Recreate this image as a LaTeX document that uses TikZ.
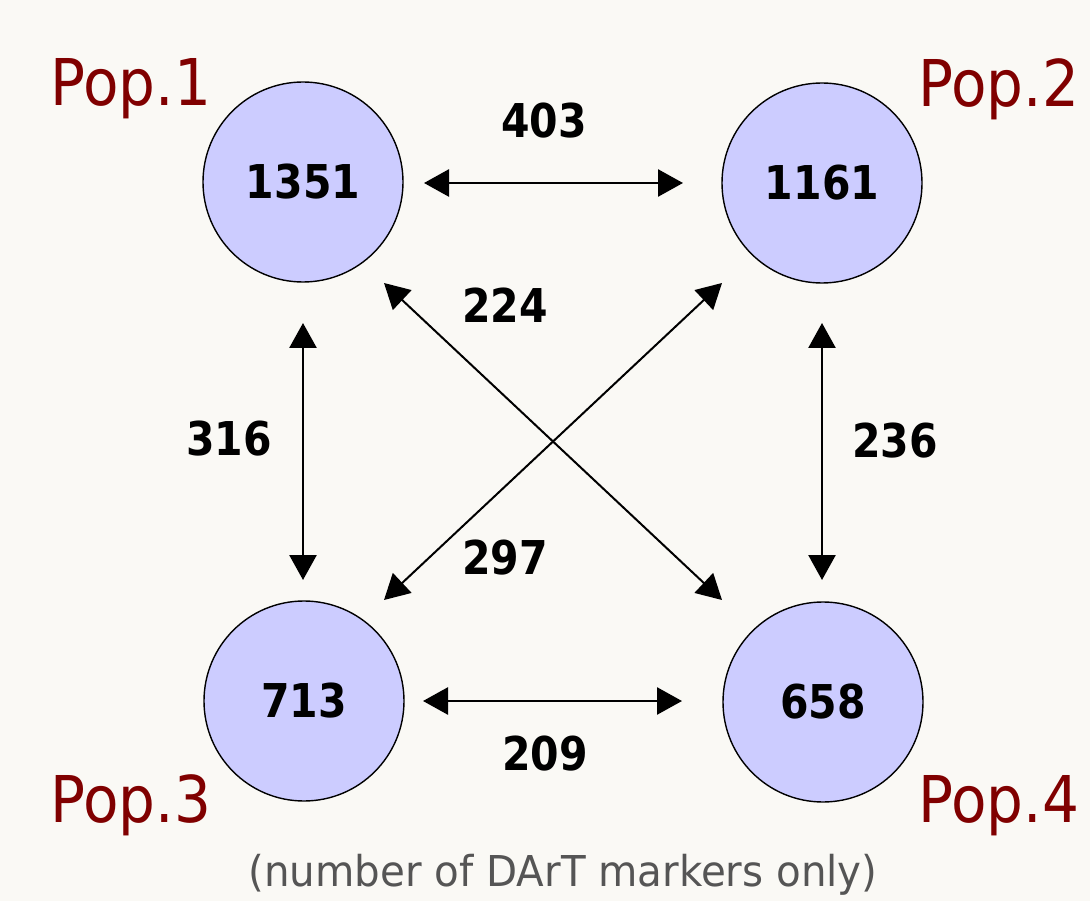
\documentclass[tikz,border=0pt]{standalone}
\usepackage{fontspec}
\usetikzlibrary{arrows.meta,calc}
\setmainfont{DejaVu Sans}
\newfontfamily\popfont[FakeStretch=0.9]{DejaVu Sans}
\newfontfamily\numfont[FakeStretch=0.88]{DejaVu Sans}
\newfontfamily\notefont[FakeStretch=0.95]{DejaVu Sans}
\definecolor{paper}{HTML}{FAF9F5}
\definecolor{popfill}{HTML}{CCCCFF}
\definecolor{poplabel}{HTML}{800000}
\definecolor{notegray}{HTML}{555555}
\tikzset{
  popcircle/.style={circle, draw=black, line width=1.4pt, fill=popfill,
    minimum size=200pt, inner sep=0pt,
    font=\numfont\bfseries\fontsize{46.6}{50}\selectfont},
  count/.style={inner sep=0pt, font=\numfont\bfseries\fontsize{46.6}{50}\selectfont},
  poptag/.style={inner sep=0pt, anchor=base west, text=poplabel,
    font=\popfont\fontsize{64.5}{70}\selectfont},
  flow/.style={line width=2.6pt,
    {Triangle[length=25pt,width=27pt]}-{Triangle[length=25pt,width=27pt]}},
  crossflow/.style={flow, line width=2pt},
}
\begin{document}
\begin{tikzpicture}[x=1pt,y=-1pt]
  \fill[paper] (0,0) rectangle (1090,901);
  \useasboundingbox (0,0) rectangle (1090,901);

  % populations
  \node[popcircle] (c1) at (303,182) {1351};
  \node[popcircle] (c2) at (822,183) {1161};
  \node[popcircle] (c3) at (304,701) {713};
  \node[popcircle] (c4) at (823,702) {658};

  \node[poptag] (p1) at (50,106) {Pop.1};
  \node[poptag] (p2) at (918,107) {Pop.2};
  \node[poptag] (p3) at (50,822) {Pop.3};
  \node[poptag] (p4) at (918,822) {Pop.4};

  % shared markers between pairs
  \draw[flow] ($(c1)+(121,1)$) -- ($(c2)+(-139,0)$);
  \draw[flow] ($(c3)+(119,0)$) -- ($(c4)+(-141,-1)$);
  \draw[flow] ($(c1)+(0,141)$) -- ($(c3)+(-1,-121)$);
  \draw[flow] ($(c2)+(0,140)$) -- ($(c4)+(-1,-122)$);
  \draw[crossflow] ($(c1)+(81,101)$) -- ($(c4)+(-101,-102)$);
  \draw[crossflow] ($(c2)+(-100,100)$) -- ($(c3)+(80,-101)$);

  \node[count] (n12) at (544,121) {403};
  \node[count] (n34) at (545,754) {209};
  \node[count] (n13) at (229,439) {316};
  \node[count] (n24) at (895,441) {236};
  \node[count] (n14) at (505,305) {224};
  \node[count] (n23) at (505,558) {297};

  \node[inner sep=0pt, anchor=base, text=notegray,
    font=\notefont\fontsize{42.5}{46}\selectfont] (note) at (563,886)
    {(number of DArT markers only)};
\end{tikzpicture}
\end{document}
